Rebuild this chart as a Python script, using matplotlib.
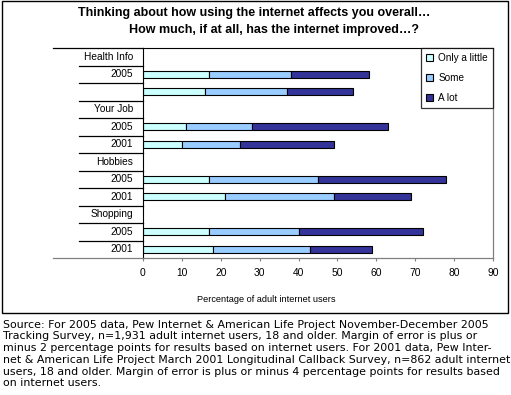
import matplotlib.pyplot as plt
from matplotlib.patches import Rectangle
from matplotlib.lines import Line2D

# data
categories = ['Health Info', 'Your Job', 'Hobbies', 'Shopping']
years = [['2005', ''], ['2005', '2001'], ['2005', '2001'], ['2005', '2001']]
only_little = [17, 16, 11, 10, 17, 21, 17, 18]
some = [21, 21, 17, 15, 28, 28, 23, 25]
a_lot = [20, 17, 35, 24, 33, 20, 32, 16]
series_names = ['Only a little', 'Some', 'A lot']
colors = ['#CCFFFF', '#99CCFF', '#333399']

title_1 = 'Thinking about how using the internet affects you overall…'
title_2 = 'How much, if at all, has the internet improved…?'
xlabel = 'Percentage of adult internet users'
source_lines = [
    'Source: For 2005 data, Pew Internet & American Life Project November-December 2005',
    'Tracking Survey, n=1,931 adult internet users, 18 and older. Margin of error is plus or',
    'minus 2 percentage points for results based on internet users. For 2001 data, Pew Inter-',
    'net & American Life Project March 2001 Longitudinal Callback Survey, n=862 adult internet',
    'users, 18 and older. Margin of error is plus or minus 4 percentage points for results based',
    'on internet users.',
]

W, H = 511, 395
plt.rcParams['font.family'] = ['Liberation Sans', 'DejaVu Sans']
fig = plt.figure(figsize=(W / 100, H / 100), dpi=100)

# plot area in pixels
x0, x1, y0, y1 = 143, 493, 48, 258
ax = fig.add_axes([x0 / W, 1 - y1 / H, (x1 - x0) / W, (y1 - y0) / H])

# row layout: category label row then its year rows
row_text = []
bar_rows = []
r = 0
for cat, yrs in zip(categories, years):
    row_text.append((r, cat))
    r += 1
    for y in yrs:
        row_text.append((r, y))
        bar_rows.append(r)
        r += 1
n_rows = r

left = [0] * len(bar_rows)
for vals, name, c in zip([only_little, some, a_lot], series_names, colors):
    ax.barh(bar_rows, vals, left=left, height=0.4, color=c,
            edgecolor='black', linewidth=0.8, label=name)
    left = [a + b for a, b in zip(left, vals)]

ax.set_xlim(0, 90)
ax.set_ylim(n_rows - 0.5, -0.5)
ax.set_xticks(range(0, 91, 10))
ax.set_yticks([])
ax.tick_params(axis='x', direction='out', length=2.5, width=0.8, color='#808080',
               labelsize=7.4, pad=5)

for side in ['left', 'top']:
    ax.spines[side].set_color('black')
    ax.spines[side].set_linewidth(0.8)
for side in ['right', 'bottom']:
    ax.spines[side].set_color('#808080')
    ax.spines[side].set_linewidth(0.9)

# category label column
lab_x = (133 - x0) / (x1 - x0)
line_start = (79 - x0) / (x1 - x0)
outer_start = (53 - x0) / (x1 - x0)
for row, txt in row_text:
    ax.text(lab_x, row, txt, transform=ax.get_yaxis_transform(),
            ha='right', va='center', fontsize=7.3)
for i in range(n_rows + 1):
    yb = i - 0.5
    xs = outer_start if i in (0, n_rows) else line_start
    col = '#808080' if i == n_rows else 'black'
    ax.add_line(Line2D([xs, 0], [yb, yb], transform=ax.get_yaxis_transform(),
                       color=col, linewidth=0.9, clip_on=False))

leg = ax.legend(loc='upper right', bbox_to_anchor=(1.0, 1.0), fontsize=7.2,
                frameon=True, fancybox=False, handlelength=0.7, handleheight=0.7,
                handletextpad=0.5, labelspacing=1.0, borderpad=0.5,
                borderaxespad=0)
leg.get_frame().set_edgecolor('black')
leg.get_frame().set_linewidth(0.9)

# x axis title, centred under the whole chart
fig.text(266 / W, 1 - 300 / H, xlabel, ha='center', va='center', fontsize=6.6)

# titles
fig.text(254 / W, 1 - 13 / H, title_1, ha='center', va='center',
         fontsize=9.0, fontweight='bold')
fig.text(274 / W, 1 - 30 / H, title_2, ha='center', va='center',
         fontsize=9.0, fontweight='bold')

# outer frame
fig.add_artist(Rectangle((2 / W, 1 - 313 / H), 506 / W, 312 / H,
                         transform=fig.transFigure, fill=False,
                         edgecolor='black', linewidth=1.0))

# source note
for k, line in enumerate(source_lines):
    fig.text(3 / W, 1 - (324.5 + 11.8 * k) / H, line, ha='left', va='center',
             fontsize=7.95, family='DejaVu Sans')

fig.savefig('out.png', dpi=100)
